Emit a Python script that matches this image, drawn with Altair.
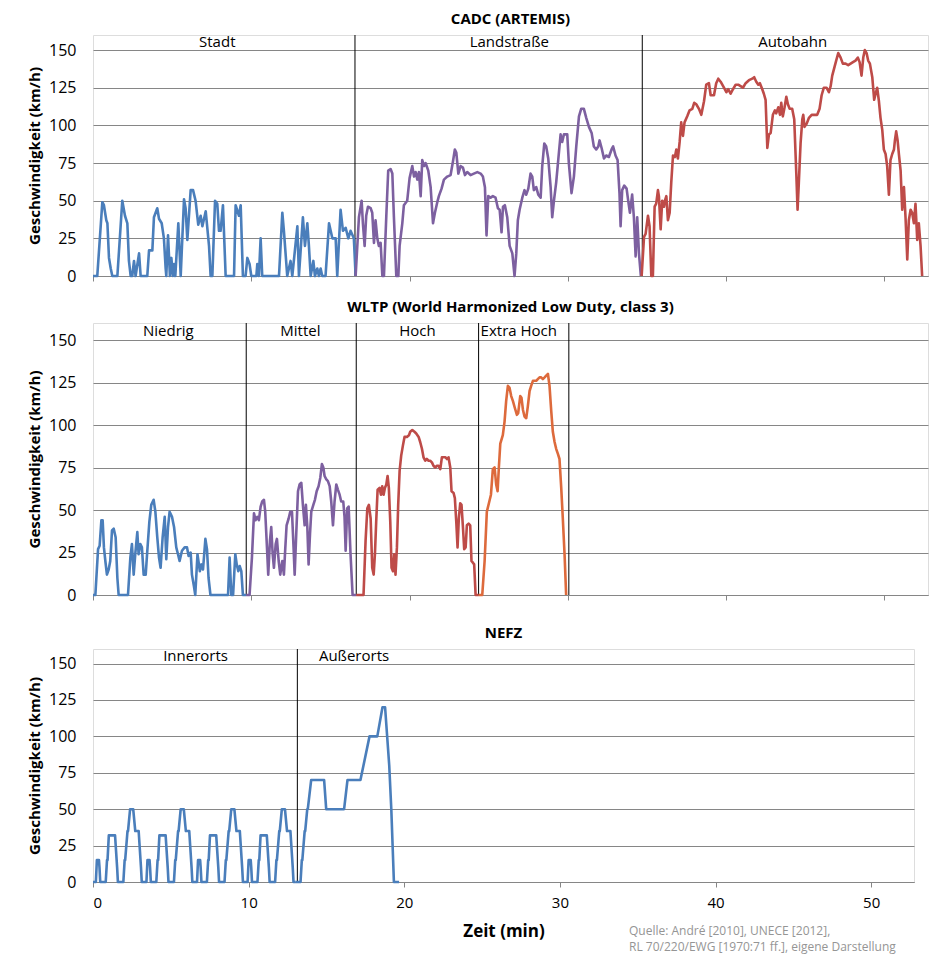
import altair as alt
import pandas as pd

FONT = "Open Sans"
GRAY = "#868686"
XMAX = 52.75

# ---------------- CADC (ARTEMIS) ----------------
cadc_stadt_t = [0, 0.27, 0.59, 0.69, 0.84, 0.91, 1.01, 1.12, 1.22, 1.54, 1.85, 2.02, 2.17, 2.27, 2.38,
                2.48, 2.59, 2.69, 2.91, 3.01, 3.43, 3.54, 3.75, 3.85, 4.06, 4.17, 4.34, 4.48, 4.59, 4.63,
                4.74, 4.86, 4.95, 5.05, 5.12, 5.2, 5.39, 5.54, 5.75, 5.85, 5.96, 6.17, 6.32, 6.48, 6.65,
                6.80, 6.91, 7.12, 7.33, 7.43, 7.54, 7.71, 7.85, 7.96, 8.06, 8.21, 8.38, 8.91, 9.01, 9.22,
                9.33, 9.47, 9.64, 9.75, 9.89, 10.0, 10.32, 10.38, 10.48, 10.59, 10.69, 11.75, 11.96, 12.06,
                12.27, 12.48, 12.59, 12.91, 13.01, 13.26, 13.39, 13.54, 13.64, 13.75, 13.92, 14.02, 14.17,
                14.27, 14.38, 14.48, 14.69, 14.91, 15.12, 15.33, 15.43, 15.64, 15.79, 15.96, 16.13, 16.27,
                16.48, 16.59]
cadc_stadt_v = [0, 0, 49, 47, 37, 35, 12, 5, 0, 0, 50, 40, 35, 10, 0,
                0, 10, 0, 15, 0, 0, 17, 17, 39, 45, 38, 35, 25, 5, 0,
                27, 0, 12, 0, 8, 0, 35, 0, 51, 45, 24, 57, 57, 50, 34,
                40, 33, 43, 20, 0, 0, 50, 48, 30, 30, 47, 0, 0, 47, 40,
                47, 0, 0, 12, 8, 0, 0, 8, 0, 25, 0, 0, 42, 30,
                0, 10, 0, 33, 0, 39, 20, 35, 20, 0, 10, 0, 5,
                0, 5, 0, 0, 35, 25, 25, 0, 44, 30, 32, 25, 30,
                25, 0]

cadc_land_t = [16.59, 16.80, 16.97, 17.05, 17.16, 17.26, 17.37, 17.54, 17.64, 17.75, 17.85, 17.96, 18.06,
               18.17, 18.28, 18.38, 18.53, 18.65, 18.80, 18.91, 19.01, 19.16, 19.29, 19.37, 19.54, 19.64,
               19.85, 20.0, 20.17, 20.28, 20.38, 20.49, 20.59, 20.70, 20.80, 20.91, 21.01, 21.18, 21.33,
               21.48, 21.60, 21.75, 21.85, 22.02, 22.17, 22.38, 22.59, 22.74, 22.86, 22.95, 23.08, 23.22,
               23.37, 23.50, 23.64, 23.85, 24.06, 24.28, 24.49, 24.63, 24.76, 24.86, 24.97, 25.12, 25.26,
               25.43, 25.58, 25.69, 25.81, 25.90, 26.02, 26.17, 26.32, 26.49, 26.63, 26.74, 26.84, 26.95,
               27.12, 27.26, 27.37, 27.50, 27.64, 27.75, 27.85, 28.0, 28.13, 28.28, 28.38, 28.51, 28.63,
               28.76, 28.91, 29.01, 29.12, 29.26, 29.39, 29.54, 29.64, 29.75, 29.96, 30.06, 30.23, 30.38,
               30.53, 30.70, 30.84, 31.01, 31.16, 31.33, 31.50, 31.64, 31.79, 31.92, 32.0, 32.13, 32.28,
               32.42, 32.59, 32.76, 32.86, 33.01, 33.14, 33.26, 33.33, 33.43, 33.56, 33.71, 33.81, 33.92,
               34.06, 34.17, 34.28, 34.38, 34.49, 34.61]
cadc_land_v = [0, 39, 50, 35, 20, 40, 46, 45, 42, 22, 37, 25, 20,
               22, 0, 0, 40, 70, 71, 68, 39, 0, 0, 20, 35, 47,
               50, 65, 73, 66, 69, 64, 69, 53, 77, 73, 75, 70, 59,
               35, 42, 49, 53, 58, 64, 66, 67, 76, 84, 82, 68, 73,
               72, 67, 69, 67, 68, 69, 68, 66, 59, 27, 53, 52, 53,
               52, 45, 44, 29, 46, 47, 39, 20, 15, 0, 15, 37, 44,
               52, 57, 54, 58, 68, 66, 57, 59, 54, 52, 73, 88, 86,
               78, 59, 39, 50, 62, 77, 94, 89, 94, 94, 75, 55, 66,
               86, 106, 111, 111, 105, 99, 95, 86, 84, 86, 90, 85, 78,
               80, 79, 84, 86, 80, 77, 55, 33, 57, 60, 58, 50, 42,
               54, 39, 13, 39, 15, 0]

cadc_auto_t = [34.66, 34.81, 34.91, 35.06, 35.16, 35.27, 35.37, 35.48, 35.58, 35.69, 35.75, 35.86, 35.96,
               36.07, 36.13, 36.22, 36.32, 36.43, 36.53, 36.64, 36.76, 36.85, 36.95, 37.06, 37.16, 37.27,
               37.37, 37.54, 37.69, 37.86, 37.98, 38.11, 38.28, 38.43, 38.60, 38.74, 38.91, 39.02, 39.23,
               39.37, 39.50, 39.65, 39.86, 40.01, 40.13, 40.28, 40.43, 40.60, 40.76, 40.91, 41.06, 41.23,
               41.44, 41.65, 41.77, 41.90, 42.03, 42.13, 42.28, 42.38, 42.49, 42.60, 42.70, 42.81, 42.95,
               43.08, 43.16, 43.29, 43.40, 43.48, 43.58, 43.69, 43.80, 43.90, 44.01, 44.17, 44.30, 44.43,
               44.51, 44.59, 44.70, 44.81, 44.87, 44.95, 45.08, 45.23, 45.40, 45.54, 45.75, 45.90, 46.03,
               46.17, 46.34, 46.49, 46.60, 46.70, 46.85, 46.95, 47.08, 47.23, 47.37, 47.54, 47.71, 47.86,
               48.01, 48.17, 48.32, 48.43, 48.55, 48.66, 48.76, 48.87, 48.97, 49.08, 49.23, 49.35, 49.44,
               49.54, 49.65, 49.75, 49.86, 49.96, 50.07, 50.17, 50.28, 50.38, 50.49, 50.60, 50.66, 50.74,
               50.83, 50.91, 51.02, 51.12, 51.23, 51.33, 51.44, 51.54, 51.65, 51.75, 51.86, 51.96, 52.07,
               52.17, 52.28, 52.38]
cadc_auto_v = [0, 26, 28, 40, 33, 0, 0, 46, 48, 57, 53, 31, 50,
               46, 50, 53, 37, 42, 62, 80, 79, 84, 78, 89, 102, 93,
               102, 106, 110, 111, 115, 114, 111, 107, 116, 127, 128, 120, 120,
               128, 131, 129, 125, 122, 124, 121, 124, 127, 127, 126, 125, 128,
               130, 131, 132, 129, 127, 128, 124, 121, 117, 85, 94, 95, 107,
               110, 108, 112, 107, 115, 106, 112, 119, 114, 111, 111, 104, 68,
               44, 62, 88, 104, 107, 99, 101, 105, 107, 107, 107, 111, 120,
               125, 125, 122, 126, 133, 139, 143, 148, 145, 141, 141, 140, 141,
               142, 143, 145, 142, 133, 145, 150, 148, 143, 141, 132, 117, 121,
               125, 116, 105, 97, 84, 81, 73, 54, 77, 81, 84, 90, 96,
               90, 81, 70, 44, 59, 39, 11, 37, 44, 42, 35, 48, 24,
               35, 20, 0]

cadc_seps = [16.55, 34.7]
cadc_labels = ["Stadt", "Landstraße", "Autobahn"]
cadc_label_t = [7.85, 26.3, 44.2]

# ---------------- WLTP ----------------
wltp_low_t = [0, 0.15, 0.32, 0.42, 0.53, 0.61, 0.69, 0.78, 0.88, 0.99, 1.09, 1.20, 1.31, 1.43, 1.54,
              1.62, 2.21, 2.36, 2.46, 2.57, 2.67, 2.80, 2.88, 2.99, 3.09, 3.20, 3.33, 3.43, 3.56, 3.68,
              3.83, 3.94, 4.06, 4.17, 4.27, 4.40, 4.53, 4.63, 4.74, 4.84, 4.99, 5.12, 5.26, 5.37, 5.47,
              5.62, 5.79, 5.94, 6.04, 6.17, 6.25, 6.38, 6.46, 6.6, 6.75, 6.85, 6.95, 7.1, 7.2, 7.3,
              7.42, 8.53, 8.63, 8.74, 8.85, 8.99, 9.08, 9.18, 9.27, 9.37, 9.47, 9.68]
wltp_low_v = [0, 0, 27, 29, 44, 44, 28, 20, 12, 15, 20, 38, 39, 34, 10,
              0, 0, 22, 30, 12, 24, 37, 24, 30, 28, 12, 12, 26, 43, 53,
              56, 49, 34, 22, 16, 34, 46, 21, 40, 49, 46, 40, 28, 24, 20,
              26, 28, 28, 23, 25, 12, 5, 0, 24, 14, 18, 15, 33, 27, 10,
              0, 0, 22, 0, 0, 24, 18, 14, 17, 14, 0, 0]

wltp_mid_t = [9.68, 9.89, 10.04, 10.17, 10.27, 10.38, 10.48, 10.59, 10.69, 10.80, 10.88, 10.99, 11.07,
              11.18, 11.26, 11.35, 11.43, 11.54, 11.62, 11.73, 11.83, 11.96, 12.06, 12.15, 12.23, 12.36,
              12.46, 12.57, 12.67, 12.74, 12.84, 12.95, 13.05, 13.16, 13.26, 13.37, 13.45, 13.54, 13.62,
              13.71, 13.79, 13.92, 14.02, 14.13, 14.25, 14.36, 14.46, 14.55, 14.63, 14.74, 14.84, 14.95,
              15.05, 15.16, 15.26, 15.37, 15.47, 15.58, 15.68, 15.81, 15.89, 15.96, 16.06, 16.15, 16.27,
              16.40, 16.63]
wltp_mid_v = [0, 0, 22, 48, 44, 46, 44, 52, 55, 56, 49, 28, 12,
              32, 40, 24, 16, 30, 33, 20, 12, 20, 12, 28, 41, 45,
              49, 49, 28, 12, 36, 61, 65, 66, 53, 41, 53, 40, 18,
              36, 49, 53, 56, 61, 64, 69, 77, 75, 70, 68, 67, 64,
              55, 41, 55, 65, 62, 59, 55, 55, 46, 26, 51, 52, 24,
              0, 0]

wltp_high_t = [16.63, 17.09, 17.22, 17.33, 17.43, 17.54, 17.64, 17.73, 17.81, 17.89, 17.98, 18.10, 18.19,
               18.27, 18.36, 18.44, 18.53, 18.61, 18.69, 18.78, 18.86, 18.95, 19.03, 19.11, 19.20, 19.28,
               19.37, 19.47, 19.58, 19.68, 19.83, 19.96, 20.04, 20.17, 20.31, 20.42, 20.57, 20.67, 20.78,
               20.88, 20.99, 21.09, 21.20, 21.30, 21.41, 21.51, 21.62, 21.73, 21.83, 21.94, 22.04, 22.15,
               22.27, 22.36, 22.46, 22.57, 22.65, 22.78, 22.86, 22.95, 23.03, 23.11, 23.20, 23.28, 23.37,
               23.45, 23.54, 23.62, 23.73, 23.83, 23.91, 24.0, 24.08, 24.17, 24.36]
wltp_high_v = [0, 0, 32, 51, 53, 45, 16, 12, 24, 43, 62, 63, 59,
               64, 59, 63, 65, 70, 63, 43, 16, 14, 24, 12, 28, 53,
               73, 82, 88, 93, 93, 94, 96, 97, 96, 95, 93, 90, 86,
               81, 79, 80, 79, 79, 78, 76, 75, 76, 76, 74, 81, 81,
               81, 80, 81, 75, 61, 60, 57, 43, 28, 45, 54, 53, 40,
               27, 28, 41, 42, 41, 20, 19, 18, 0, 0]

wltp_xhigh_t = [24.36, 24.59, 24.74, 24.88, 25.01, 25.14, 25.26, 25.37, 25.47, 25.56, 25.64, 25.73, 25.89,
                26.0, 26.10, 26.21, 26.31, 26.42, 26.53, 26.65, 26.78, 26.86, 26.99, 27.07, 27.16, 27.26,
                27.37, 27.47, 27.58, 27.68, 27.79, 27.89, 28.0, 28.10, 28.21, 28.31, 28.42, 28.53, 28.63,
                28.74, 28.84, 28.95, 29.05, 29.16, 29.26, 29.37, 29.47, 29.58, 29.68, 29.79, 29.89]
wltp_xhigh_v = [0, 0, 20, 49, 54, 59, 74, 75, 65, 61, 75, 89, 94,
                102, 114, 123, 122, 117, 114, 110, 106, 107, 117, 116, 109, 105,
                104, 111, 120, 123, 126, 126, 126, 127, 128, 128, 127, 128, 129,
                130, 123, 108, 96, 90, 86, 83, 80, 63, 45, 24, 0]

wltp_seps = [9.68, 16.63, 24.36, 30.06]
wltp_labels = ["Niedrig", "Mittel", "Hoch", "Extra Hoch"]
wltp_label_t = [4.76, 13.1, 20.5, 26.9]

# ---------------- NEFZ (time in seconds) ----------------
nefz_inner_s = [0, 11, 15, 23, 25, 28, 49, 54, 56, 61, 85, 93, 96, 117, 122, 124, 133, 135, 143, 155, 163, 176, 185, 188,
                195, 206, 210, 218, 220, 223, 244, 249, 251, 256, 280, 288, 291, 312, 317, 319, 328, 330, 338, 350, 358, 371, 380, 383,
                390, 401, 405, 413, 415, 418, 439, 444, 446, 451, 475, 483, 486, 507, 512, 514, 523, 525, 533, 545, 553, 566, 575, 578,
                585, 596, 600, 608, 610, 613, 634, 639, 641, 646, 670, 678, 681, 702, 707, 709, 718, 720, 728, 740, 748, 761, 770, 773,
                780]
nefz_inner_v = [0, 0, 15, 15, 10, 0, 0, 15, 15, 32, 32, 10, 0, 0, 15, 15, 35, 35, 50, 50, 35, 35, 10, 0,
                0, 0, 15, 15, 10, 0, 0, 15, 15, 32, 32, 10, 0, 0, 15, 15, 35, 35, 50, 50, 35, 35, 10, 0,
                0, 0, 15, 15, 10, 0, 0, 15, 15, 32, 32, 10, 0, 0, 15, 15, 35, 35, 50, 50, 35, 35, 10, 0,
                0, 0, 15, 15, 10, 0, 0, 15, 15, 32, 32, 10, 0, 0, 15, 15, 35, 35, 50, 50, 35, 35, 10, 0,
                0]
nefz_outer_s = [780, 800, 805, 807, 816, 818, 826, 828, 841, 891, 899, 968, 981, 1031, 1066, 1096, 1116, 1126,
                1142, 1150, 1160, 1180]
nefz_outer_v = [0, 0, 15, 15, 35, 35, 50, 50, 70, 70, 50, 50, 70, 70, 100, 100, 120, 120,
                80, 50, 0, 0]

nefz_seps = [13.13]
nefz_labels = ["Innerorts", "Außerorts"]
nefz_label_t = [6.59, 16.77]

Y_TICKS = [0, 25, 50, 75, 100, 125, 150]
X_TICKS = [0, 10, 20, 30, 40, 50]

SOURCE = "Quelle: André [2010], UNECE [2012],\nRL 70/220/EWG [1970:71 ff.], eigene Darstellung"

BLUE, PURPLE, RED, ORANGE = "#4A7EBB", "#7D60A0", "#BE4B48", "#DD6A3C"
SEG_NAMES = ["Stadt", "Landstraße", "Autobahn", "Niedrig", "Mittel", "Hoch", "Extra Hoch",
             "Innerorts", "Außerorts"]
SEG_COLORS = [BLUE, PURPLE, RED, BLUE, PURPLE, RED, ORANGE, BLUE, BLUE]
COLOR = alt.Scale(domain=SEG_NAMES, range=SEG_COLORS)


def frame(segments):
    parts = [pd.DataFrame({"t": ts, "v": vs, "seg": name}) for name, ts, vs in segments]
    return pd.concat(parts, ignore_index=True)


def panel(title, segments, seps, labels, label_t, width, height, bottom=False, extra=None):
    df = frame(segments)
    if bottom:
        xaxis = alt.Axis(values=X_TICKS, tickCount=10, grid=False, tickSize=5, tickColor=GRAY,
                         domainColor=GRAY, labelFontSize=15, labelPadding=8, labelColor="black",
                         titleFontSize=17, titleFontWeight="bold", titlePadding=13, titleColor="black",
                         labelFont=FONT, titleFont=FONT)
        xtitle = "Zeit (min)"
    else:
        xaxis = alt.Axis(values=X_TICKS, tickCount=10, grid=False, labels=False, tickSize=5,
                         tickColor=GRAY, domainColor=GRAY)
        xtitle = None
    X = alt.X("t:Q", title=xtitle, scale=alt.Scale(domain=[0, XMAX], nice=False, zero=False), axis=xaxis)
    Y = alt.Y("v:Q", title="Geschwindigkeit (km/h)",
              scale=alt.Scale(domain=[0, 160], nice=False),
              axis=alt.Axis(values=Y_TICKS, tickCount=10, grid=True, gridColor=GRAY,
                            gridWidth=1, domain=False, ticks=False, tickSize=0, labelPadding=17,
                            labelOverlap=False, labelFontSize=16, labelColor="black", labelFont=FONT,
                            titleFontSize=15, titleFontWeight="bold", titleFont=FONT,
                            titlePadding=6, titleColor="black"))

    rules = alt.Chart(pd.DataFrame({"t": seps})).mark_rule(color="black", strokeWidth=1).encode(
        x=X, y=alt.datum(0), y2=alt.datum(160))
    lines = alt.Chart(df).mark_line(strokeWidth=2.6, strokeJoin="round").encode(
        x=X, y=Y, color=alt.Color("seg:N", scale=COLOR, legend=None))
    texts = alt.Chart(pd.DataFrame({"t": label_t, "label": labels})).mark_text(
        fontSize=15, font=FONT, baseline="middle", color="black").encode(
        x=X, y=alt.datum(155.2), text="label:N")
    layers = [rules, lines, texts]
    if extra is not None:
        layers.append(extra)
    return alt.layer(*layers).properties(
        width=width, height=height,
        title=alt.TitleParams(title, font=FONT, fontSize=15, fontWeight="bold", anchor="middle",
                              offset=8, color="black"))


p1 = panel("CADC (ARTEMIS)",
           [("Stadt", cadc_stadt_t, cadc_stadt_v),
            ("Landstraße", cadc_land_t, cadc_land_v),
            ("Autobahn", cadc_auto_t, cadc_auto_v)],
           cadc_seps, cadc_labels, cadc_label_t, 835, 241)

p2 = panel("WLTP (World Harmonized Low Duty, class 3)",
           [("Niedrig", wltp_low_t, wltp_low_v),
            ("Mittel", wltp_mid_t, wltp_mid_v),
            ("Hoch", wltp_high_t, wltp_high_v),
            ("Extra Hoch", wltp_xhigh_t, wltp_xhigh_v)],
           wltp_seps, wltp_labels, wltp_label_t, 835, 272)

H3 = 233
source = alt.Chart(pd.DataFrame({"txt": [SOURCE]})).mark_text(
    align="left", baseline="top", fontSize=12, font=FONT, color="#959595",
    lineBreak="\n", lineHeight=16).encode(
    x=alt.value(536), y=alt.value(H3 + 44), text="txt:N")

p3 = panel("NEFZ",
           [("Innerorts", [s / 60 for s in nefz_inner_s], nefz_inner_v),
            ("Außerorts", [s / 60 for s in nefz_outer_s], nefz_outer_v)],
           nefz_seps, nefz_labels, nefz_label_t, 821, H3, bottom=True, extra=source)

inner = alt.vconcat(p1, p2, spacing=14).resolve_scale(y="independent", x="independent")
chart = alt.vconcat(inner, p3, spacing=21).resolve_scale(y="independent", x="independent").properties(
    padding={"left": 19, "top": 3, "right": 5, "bottom": 0}
).configure_view(stroke=GRAY, strokeWidth=1).configure(background="white")

chart.save("out.html", embed_options={"renderer": "svg", "actions": False})
